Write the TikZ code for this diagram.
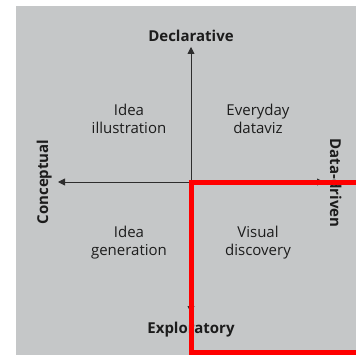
\documentclass[tikz,border=0pt]{standalone}
\usepackage{fontspec}
\setmainfont{Open Sans}
\usepackage{tikz}
\usetikzlibrary{positioning, arrows.meta}
\usepackage{xcolor}
\definecolor{panelgray}{RGB}{197,199,200}
\definecolor{axisgray}{RGB}{45,45,45}
\definecolor{inkgray}{RGB}{28,28,28}

\begin{document}
\begin{tikzpicture}[
    x=1pt, y=-1pt,
    axis/.style={draw=axisgray,line width=0.9pt,-{Triangle[width=7pt,length=7pt]}},
    axislabel/.style={font=\fontsize{15}{17}\selectfont\bfseries,text=inkgray,inner sep=0pt,anchor=base},
    quadlabel/.style={font=\fontsize{15}{18}\selectfont,text=inkgray,align=center,inner sep=0pt},
    highlight/.style={draw=red,line width=5pt}
]
\useasboundingbox (0,0) rectangle (355,355);

% Background panel
\fill[panelgray] (16,6) rectangle (360,360);

% Axes
\coordinate (origin) at (191,182);
\coordinate (top) at (191,47);
\coordinate (bottom) at (191,313);
\coordinate (left) at (58,182);
\coordinate (right) at (324,182);
\draw[axis] (origin) -- (top);
\draw[axis] (origin) -- (bottom);
\draw[axis] (origin) -- (left);
\draw[axis] (origin) -- (right);

% Axis labels
\node[axislabel] (decl) at (191,42) {Declarative};
\node[axislabel] (expl) at (191,333) {Exploratory};
\node[axislabel,rotate=90] (conc) at (48,182) {Conceptual};
\node[axislabel,rotate=-90] (datad) at (330,183) {Data-driven};

% Quadrants
\node[quadlabel] (illus) at (129,119) {Idea\\illustration};
\node[quadlabel] (everyday) at (258,119) {Everyday\\dataviz};
\node[quadlabel] (gen) at (129,243) {Idea\\generation};
\node[quadlabel] (visual) at (258,243) {Visual\\discovery};

% Highlighted quadrant
\draw[highlight] (362,182) -- (191,182) -- (191,352) -- (362,352);

\end{tikzpicture}
\end{document}
